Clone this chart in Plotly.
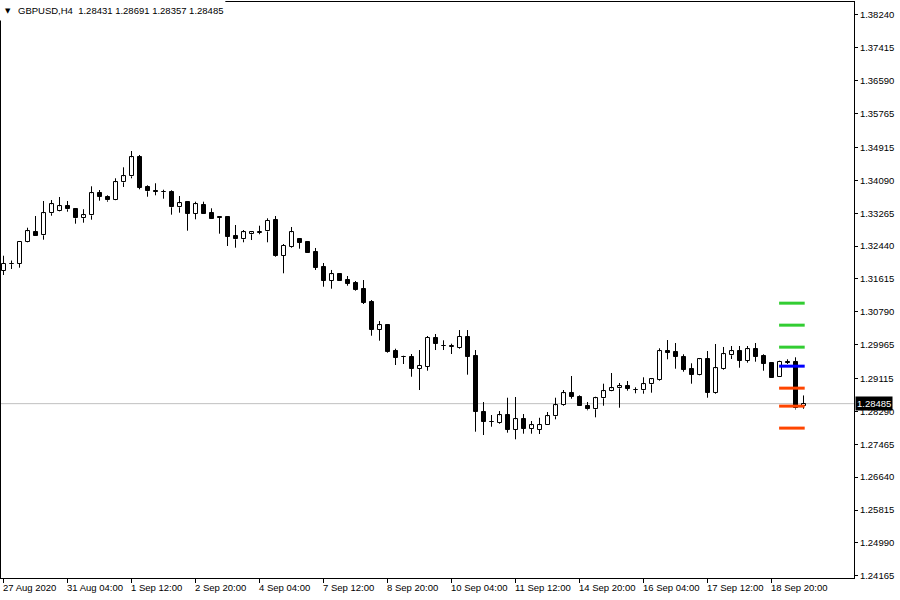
import plotly.graph_objects as go

symbol = "GBPUSD,H4"

opens = [1.31822, 1.31985, 1.31990, 1.32545, 1.32805, 1.32710, 1.33265, 1.33313, 1.33435, 1.33360,
         1.33140, 1.33210, 1.33765, 1.33664, 1.33590, 1.34040, 1.34190, 1.34668, 1.33923, 1.33810,
         1.33805, 1.33797, 1.33413, 1.33539, 1.33253, 1.33463, 1.33263, 1.33177, 1.33170, 1.32700,
         1.32610, 1.32736, 1.32780, 1.32806, 1.33094, 1.32198, 1.32424, 1.32618, 1.32542, 1.32291,
         1.31915, 1.31571, 1.31732, 1.31588, 1.31513, 1.31363, 1.31036, 1.30341, 1.30459, 1.29806,
         1.29668, 1.29656, 1.29362, 1.29412, 1.30133, 1.29940, 1.29914, 1.29889, 1.30158, 1.29681,
         1.28275, 1.28024, 1.28007, 1.28192, 1.27831, 1.28092, 1.27856, 1.27836, 1.27941, 1.28167,
         1.28443, 1.28745, 1.28659, 1.28418, 1.28343, 1.28619, 1.28795, 1.28870, 1.28920, 1.28835,
         1.28820, 1.28971, 1.29078, 1.29805, 1.29781, 1.29656, 1.29355, 1.29212, 1.29598, 1.28760,
         1.29355, 1.29698, 1.29799, 1.29563, 1.29849, 1.29681, 1.29505, 1.29161, 1.29538, 1.29538,
         1.28431]
highs = [1.32198, 1.32078, 1.32567, 1.32901, 1.33195, 1.33571, 1.33596, 1.33672, 1.33571, 1.33365,
         1.33365, 1.33940, 1.33847, 1.33714, 1.34141, 1.34417, 1.34826, 1.34726, 1.33965, 1.34016,
         1.33855, 1.33840, 1.33697, 1.33540, 1.33554, 1.33554, 1.33388, 1.33185, 1.33172, 1.32969,
         1.32843, 1.32801, 1.32951, 1.33137, 1.33195, 1.32492, 1.32919, 1.32643, 1.32567, 1.32392,
         1.32015, 1.31840, 1.31735, 1.31689, 1.31563, 1.31588, 1.31086, 1.30559, 1.30484, 1.29864,
         1.29688, 1.29731, 1.29831, 1.30183, 1.30233, 1.30075, 1.29990, 1.30333, 1.30333, 1.29831,
         1.28526, 1.28200, 1.28300, 1.28634, 1.28652, 1.28225, 1.28049, 1.28130, 1.28275, 1.28634,
         1.28827, 1.29179, 1.28694, 1.28526, 1.28659, 1.28986, 1.29254, 1.29003, 1.29053, 1.28895,
         1.29146, 1.29121, 1.29874, 1.30082, 1.30007, 1.29724, 1.29498, 1.29623, 1.29806, 1.29982,
         1.29907, 1.29932, 1.29932, 1.29932, 1.30007, 1.29724, 1.29508, 1.29563, 1.29598, 1.29648,
         1.28691]
lows = [1.31714, 1.31865, 1.31897, 1.32535, 1.32695, 1.32600, 1.33202, 1.33305, 1.33303, 1.33002,
        1.33027, 1.33102, 1.33579, 1.33554, 1.33585, 1.33923, 1.34141, 1.33865, 1.33679, 1.33714,
        1.33629, 1.33228, 1.33278, 1.32826, 1.33112, 1.33250, 1.33125, 1.32751, 1.32442, 1.32399,
        1.32535, 1.32592, 1.32736, 1.32535, 1.32173, 1.31757, 1.32399, 1.32374, 1.32270, 1.31840,
        1.31420, 1.31370, 1.31568, 1.31445, 1.31320, 1.30986, 1.30190, 1.30065, 1.29764, 1.29455,
        1.29480, 1.29161, 1.28827, 1.29312, 1.29831, 1.29831, 1.29731, 1.29864, 1.29212, 1.27781,
        1.27698, 1.27906, 1.27982, 1.27756, 1.27590, 1.27731, 1.27731, 1.27723, 1.27938, 1.28092,
        1.28426, 1.28609, 1.28426, 1.28318, 1.28142, 1.28433, 1.28790, 1.28383, 1.28810, 1.28745,
        1.28735, 1.28760, 1.29061, 1.29598, 1.29362, 1.29287, 1.28986, 1.29196, 1.28634, 1.28735,
        1.29337, 1.29606, 1.29387, 1.29513, 1.29538, 1.29312, 1.29133, 1.29158, 1.29480, 1.28340,
        1.28357]
closes = [1.31990, 1.32000, 1.32550, 1.32811, 1.32700, 1.33263, 1.33489, 1.33438, 1.33363, 1.33137,
          1.33212, 1.33765, 1.33679, 1.33589, 1.34041, 1.34191, 1.34668, 1.33905, 1.33815, 1.33797,
          1.33795, 1.33413, 1.33514, 1.33253, 1.33489, 1.33253, 1.33127, 1.33145, 1.32675, 1.32610,
          1.32786, 1.32786, 1.32790, 1.33082, 1.32198, 1.32442, 1.32786, 1.32525, 1.32274, 1.31897,
          1.31571, 1.31732, 1.31571, 1.31496, 1.31337, 1.31011, 1.30341, 1.30451, 1.29781, 1.29638,
          1.29655, 1.29362, 1.29430, 1.30133, 1.29982, 1.29935, 1.29920, 1.30158, 1.29663, 1.28283,
          1.28032, 1.28030, 1.28192, 1.27831, 1.28092, 1.27849, 1.27941, 1.27945, 1.28167, 1.28443,
          1.28745, 1.28659, 1.28433, 1.28343, 1.28619, 1.28795, 1.28870, 1.28920, 1.28853, 1.28840,
          1.28971, 1.29096, 1.29799, 1.29764, 1.29663, 1.29337, 1.29212, 1.29598, 1.28760, 1.29372,
          1.29724, 1.29799, 1.29563, 1.29849, 1.29663, 1.29488, 1.29136, 1.29530, 1.29513, 1.28365,
          1.28485]

x_tick_labels = ["27 Aug 2020", "31 Aug 04:00", "1 Sep 12:00", "2 Sep 20:00", "4 Sep 04:00",
                 "7 Sep 12:00", "8 Sep 20:00", "10 Sep 04:00", "11 Sep 12:00", "14 Sep 20:00",
                 "16 Sep 04:00", "17 Sep 12:00", "18 Sep 20:00"]
x_tick_step = 8  # bars between time labels

y_tick_labels = ["1.38240", "1.37415", "1.36590", "1.35765", "1.34915", "1.34090", "1.33265",
                 "1.32440", "1.31615", "1.30790", "1.29965", "1.29115", "1.28290", "1.27465",
                 "1.26640", "1.25815", "1.24990", "1.24165"]

resistance_levels = [1.31007, 1.30455, 1.29903]
pivot_levels = [1.29426]
support_levels = [1.28874, 1.28423, 1.27871]

FONT = "Tahoma, Liberation Sans, Arial, sans-serif"
FS = 9.5

n = len(opens)
idx = list(range(n))

fig = go.Figure()

# current price line
last_close = closes[-1]
fig.add_shape(type="line", xref="paper", x0=0, x1=1, y0=last_close, y1=last_close,
              line=dict(color="#C0C0C0", width=1), layer="below")

# wicks
wx, wy = [], []
for i in idx:
    top = max(opens[i], closes[i])
    bot = min(opens[i], closes[i])
    wx += [i, i, None, i, i, None]
    wy += [highs[i], top, None, bot, lows[i], None]
fig.add_trace(go.Scatter(x=wx, y=wy, mode="lines", line=dict(color="black", width=1),
                         hoverinfo="skip", showlegend=False))

# bodies
body_base = [min(o, c) for o, c in zip(opens, closes)]
body_h = [max(abs(c - o), 0.00003) for o, c in zip(opens, closes)]
body_col = ["white" if c >= o else "black" for o, c in zip(opens, closes)]
fig.add_trace(go.Bar(x=idx, y=body_h, base=body_base, width=0.5,
                     marker=dict(color=body_col, line=dict(color="black", width=1)),
                     hoverinfo="skip", showlegend=False))

# pivot levels
level_x = [n - 4 - 0.05, n - 1 + 0.15]
for lv in resistance_levels:
    fig.add_trace(go.Scatter(x=level_x, y=[lv, lv], mode="lines",
                             line=dict(color="#32CD32", width=3), hoverinfo="skip", showlegend=False))
for lv in pivot_levels:
    fig.add_trace(go.Scatter(x=level_x, y=[lv, lv], mode="lines",
                             line=dict(color="#0000FF", width=3), hoverinfo="skip", showlegend=False))
for lv in support_levels:
    fig.add_trace(go.Scatter(x=level_x, y=[lv, lv], mode="lines",
                             line=dict(color="#FF4500", width=3), hoverinfo="skip", showlegend=False))

# x labels (left-aligned after tick marks)
for j, lab in enumerate(x_tick_labels):
    fig.add_annotation(x=j * x_tick_step, xref="x", y=0, yref="paper", yanchor="top",
                       xanchor="left", yshift=-2, xshift=-3, text=lab, showarrow=False,
                       font=dict(family=FONT, size=FS, color="black"))

# current price box
fig.add_annotation(xref="paper", x=1, xanchor="left", xshift=1, y=last_close, yref="y",
                   text=f"{last_close:.5f}", showarrow=False, bgcolor="black",
                   font=dict(family=FONT, size=FS, color="white"), borderpad=1)

# header label
fig.add_shape(type="rect", xref="paper", yref="paper", x0=-0.01, x1=0.263, y0=0.968, y1=1.02,
              fillcolor="white", line=dict(width=0), layer="above")
fig.add_annotation(xref="paper", yref="paper", x=0, y=1, xanchor="left", yanchor="top",
                   xshift=2, yshift=-3, text="\u25BC", showarrow=False,
                   font=dict(family="DejaVu Sans", size=7, color="black"))
header = f"{symbol}\u00a0\u00a0{opens[-1]:.5f} {highs[-1]:.5f} {lows[-1]:.5f} {closes[-1]:.5f}"
fig.add_annotation(xref="paper", yref="paper", x=0, y=1, xanchor="left", yanchor="top",
                   xshift=15, yshift=-1, text=header, showarrow=False,
                   font=dict(family=FONT, size=FS, color="black"))

fig.update_layout(
    width=900, height=600,
    margin=dict(l=1, r=46, t=2, b=22),
    paper_bgcolor="white", plot_bgcolor="white",
    showlegend=False, bargap=0, barmode="overlay",
    xaxis=dict(range=[-0.3125, 106.3125], tickvals=[j * x_tick_step for j in range(len(x_tick_labels))],
               ticktext=[""] * len(x_tick_labels), ticks="outside", ticklen=4, tickcolor="black",
               showgrid=False, zeroline=False, showline=True, linecolor="black", linewidth=1,
               mirror=True, fixedrange=True, automargin=False),
    yaxis=dict(side="right", range=[1.24109, 1.38566], tickvals=[float(t) for t in y_tick_labels],
               ticktext=y_tick_labels, ticks="outside", ticklen=3, tickcolor="black",
               showgrid=False, zeroline=False, showline=True, linecolor="black", linewidth=1,
               mirror=True, fixedrange=True, automargin=False,
               tickfont=dict(family=FONT, size=FS, color="black")),
)

fig.write_html("out.html", config={"displayModeBar": False},
               post_script="document.body.style.margin='0';document.body.style.padding='0';")
